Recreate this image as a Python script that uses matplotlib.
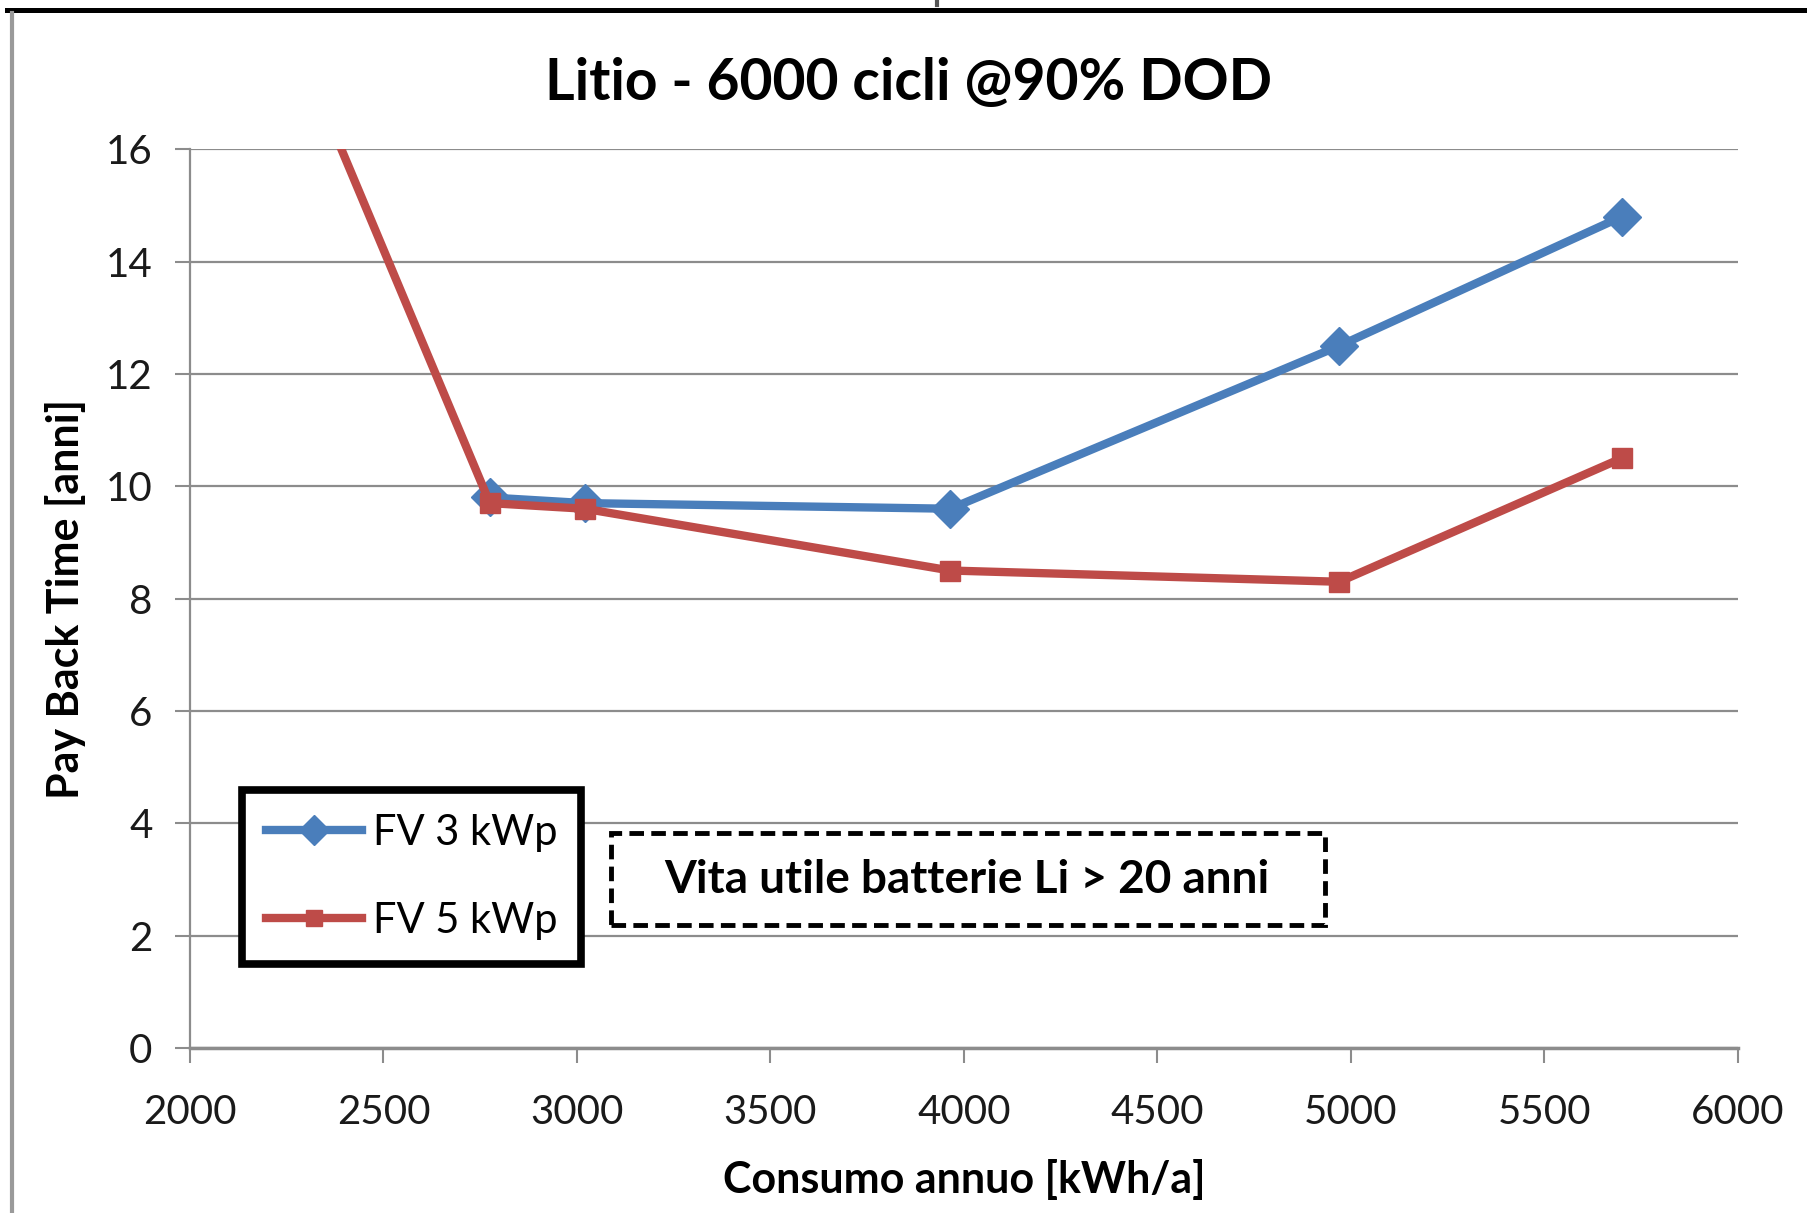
import matplotlib.pyplot as plt
from matplotlib.lines import Line2D
from matplotlib.patches import Rectangle

# annual consumption [kWh/a] and pay back time [years]
consumo_3kwp = [2775, 3020, 3965, 4970, 5700]
payback_3kwp = [9.8, 9.7, 9.6, 12.5, 14.8]

consumo_5kwp = [2300, 2775, 3020, 3965, 4970, 5700]
payback_5kwp = [17.5, 9.7, 9.6, 8.5, 8.3, 10.5]

x_ticks = [2000, 2500, 3000, 3500, 4000, 4500, 5000, 5500, 6000]
y_ticks = [0, 2, 4, 6, 8, 10, 12, 14, 16]

titolo = 'Litio - 6000 cicli @90% DOD'
nota = 'Vita utile batterie Li > 20 anni'

BLUE = '#4a7ebb'
RED = '#be4b48'
GRID = '#8c8c8c'

plt.rcParams['font.family'] = ['Lato', 'DejaVu Sans']

fig = plt.figure(figsize=(18.07, 12.13), dpi=100)
ax = fig.add_axes([0.1051, 0.136, 0.8567, 0.741])

ax.plot(consumo_3kwp, payback_3kwp, color=BLUE, lw=6, marker='D',
        markersize=19, markeredgecolor=BLUE, label='FV 3 kWp',
        solid_joinstyle='miter', zorder=3)
ax.plot(consumo_5kwp, payback_5kwp, color=RED, lw=6, marker='s',
        markersize=15, markeredgecolor=RED, label='FV 5 kWp', zorder=4)

ax.set_xlim(2000, 6000)
ax.set_ylim(0, 16)
ax.set_xticks(x_ticks)
ax.set_yticks(y_ticks)
ax.tick_params(axis='both', labelsize=29, colors=GRID, labelcolor='#1a1a1a',
               width=1.5, length=11)
ax.tick_params(axis='y', pad=16)
ax.tick_params(axis='x', pad=22)
ax.grid(axis='y', color=GRID, lw=1.6)
ax.set_axisbelow(True)
for s in ['top', 'right']:
    ax.spines[s].set_visible(False)
ax.spines['left'].set_color(GRID)
ax.spines['left'].set_linewidth(1.6)
ax.spines['bottom'].set_color(GRID)
ax.spines['bottom'].set_linewidth(2.5)

ax.set_xlabel('Consumo annuo [kWh/a]', fontsize=31, fontweight='bold',
              labelpad=20)
ax.set_ylabel('Pay Back Time [anni]', fontsize=31, fontweight='bold',
              labelpad=14)
fig.text(0.5025, 0.931, titolo, ha='center', va='center', fontsize=41,
         fontweight='bold')

leg = ax.legend(loc='upper left', bbox_to_anchor=(0.134, 0.349),
                bbox_transform=fig.transFigure, borderaxespad=0,
                fontsize=30, frameon=True, fancybox=False, framealpha=1,
                handlelength=2.3, handletextpad=0.25, labelspacing=1.2,
                borderpad=0.58, markerscale=0.8)
leg.get_frame().set_edgecolor('black')
leg.get_frame().set_linewidth(5.5)

# dashed note box
fig.patches.append(Rectangle((0.338, 0.2375), 0.395, 0.0755,
                             transform=fig.transFigure, fill=False,
                             edgecolor='black', lw=3.5, linestyle=(0, (3, 1.5))))
fig.text(0.535, 0.2745, nota, ha='center', va='center', fontsize=33,
         fontweight='bold')

# outer frame: thick top rule and grey left rule
fig.add_artist(Line2D([0.004, 1.0], [0.9915, 0.9915], color='black', lw=3.6,
                      transform=fig.transFigure))
fig.add_artist(Line2D([0.0065, 0.0065], [0.989, 0.0], color='#9a9a9a', lw=3,
                      transform=fig.transFigure))
fig.add_artist(Line2D([0.5185, 0.5185], [1.0, 0.996], color='#555555', lw=3,
                      transform=fig.transFigure))

fig.savefig('out.png', dpi=100)
